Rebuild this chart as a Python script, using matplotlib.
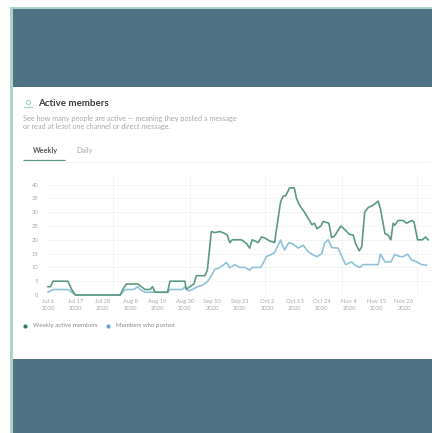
#!/usr/bin/env python3
# Active members dashboard card: weekly actives vs members who posted
import matplotlib
matplotlib.use("Agg")
import matplotlib.pyplot as plt
from matplotlib.patches import Rectangle

plt.rcParams["font.family"] = ["Lato", "DejaVu Sans"]

W, H = 432, 433

# ---------------- data (days since Jul 6 2020) ----------------
y_ticks = [0, 5, 10, 15, 20, 25, 30, 35, 40]
tick_days = [0, 11, 22, 33, 44, 55, 66, 77, 88, 99, 110, 121, 132, 143]
tick_labels = ["Jul 6\n2020", "Jul 17\n2020", "Jul 28\n2020", "Aug 8\n2020", "Aug 19\n2020",
               "Aug 30\n2020", "Sep 10\n2020", "Sep 21\n2020", "Oct 2\n2020", "Oct 13\n2020",
               "Oct 24\n2020", "Nov 4\n2020", "Nov 15\n2020", "Nov 26\n2020"]
grid_days = [26, 57, 87, 118, 148]

weekly_days = [0, 1, 2, 8, 9.5, 11, 29, 30, 31.5, 36, 37.5, 39, 41, 42, 43, 48, 49, 55, 55.5, 57,
               58.6, 59.6, 63, 64, 65.6, 67, 69, 71, 72, 73, 74, 77.7, 79.7, 81, 82, 83, 84.4,
               85.7, 87, 89, 91, 92.4, 93.4, 94.4, 95.5, 97, 98.9, 99.8, 101, 103, 105, 106,
               107, 108, 109.6, 110.5, 112.8, 113.9, 115, 117.6, 119.2, 121, 122.6, 123.5,
               125, 126, 127.2, 128.6, 130.6, 132.6, 133.5, 135.3, 136.6, 137.7, 138.6, 139.3,
               140.6, 142.6, 144, 146, 147, 148.4, 150.3, 151.6, 152.7]
weekly_active = [3, 3, 5, 5, 2, 0, 0, 2, 4, 4, 3, 2, 2, 3, 1, 1, 5, 5, 2, 3,
                 4, 7, 7, 9, 23, 22.6, 23, 22.3, 21.7, 19, 20, 20, 18.7, 17, 20, 19.6, 19,
                 21, 20.7, 19.6, 19, 27.7, 33.7, 35.8, 36, 38.8, 38.8, 35, 32.5, 30, 27, 25.5,
                 26, 24, 25, 26.7, 26, 20.8, 21.3, 25, 23.7, 22, 21.7, 18.7,
                 16, 17.5, 30, 31.7, 32.5, 34, 31.3, 22.3, 21.7, 20, 26, 25.3,
                 27, 27, 26, 27, 26.5, 20, 20, 21, 20]

posted_days = [0, 2, 8, 9.5, 11, 29, 30, 31, 34.5, 36, 37, 39, 48.2, 49, 54, 55, 56.3, 58,
               60, 62, 64.2, 65.6, 67, 69, 71.7, 73, 75, 77, 79, 81, 82, 85.5, 87.7, 89.8,
               91, 92.4, 93.4, 95, 96.7, 98.5, 100.5, 102.5, 104.5, 106.5, 108, 110, 111,
               112.5, 114, 116.5, 119.5, 122, 123.2, 125.2, 126.6, 132.6, 133.5, 135.3, 137.7,
               139.3, 141.3, 142.6, 144.4, 146, 148, 150, 152]
posted = [1, 2, 2, 1, 0, 0, 1, 2, 2, 3, 2, 1, 1, 2, 2, 3, 1.5, 2,
          3, 3.5, 5, 7, 9.3, 9.9, 11.8, 9.9, 11, 10, 10, 9, 10, 10, 13.9, 14.7,
          15.4, 18, 19.9, 16.3, 19, 18.4, 17, 18, 15.7, 14.5, 13.9, 15, 18.7,
          20, 17.2, 17, 11, 12, 10.8, 10, 11, 11, 14.8, 12, 12,
          14.7, 13.9, 13.9, 14.8, 12.7, 12, 11, 10.8]

legend_labels = ["Weekly active members", "Members who posted"]

SLATE = "#4f7385"
MINT = "#a9d6c5"
GREEN = "#5b9a80"
BLUE = "#8fc1d8"
GRID = "#f0f1f1"
TXT = "#a5a8aa"

# ---------------- page ----------------
fig = plt.figure(figsize=(W / 100, H / 100), dpi=100, facecolor="white")
page = fig.add_axes([0, 0, 1, 1])
page.set_xlim(0, W)
page.set_ylim(H, 0)
page.axis("off")

page.add_patch(Rectangle((10, 7), 3, H - 7, fc=MINT, ec="none"))
page.add_patch(Rectangle((10, 7), W - 10, 2, fc=MINT, ec="none"))
page.add_patch(Rectangle((13, 9), W - 13, 78, fc=SLATE, ec="none"))
page.add_patch(Rectangle((13, 359), W - 13, H - 359, fc=SLATE, ec="none"))

# header
page.text(38, 103, "Active members", fontsize=7, fontweight="bold", color="#3a3d40", va="center")
page.plot(28, 101.5, "o", ms=3, mfc="none", mec=MINT, mew=0.8)
page.plot([24, 32], [106.5, 106.5], color=MINT, lw=1)
page.text(23, 118.5, "See how many people are active \u2014 meaning they posted a message",
          fontsize=5.2, color=TXT, va="center")
page.text(23, 127, "or read at least one channel or direct message.", fontsize=5.2, color=TXT, va="center")
page.text(33, 150, "Weekly", fontsize=5.2, fontweight="bold", color="#55585a", va="center")
page.text(76, 150, "Daily", fontsize=5.2, color=TXT, va="center")
page.plot([23, 65], [160, 160], color=GREEN, lw=0.9, solid_capstyle="butt")
page.plot([65, 430], [162, 162], color=GRID, lw=0.6)

# legend
page.plot(25, 325.5, "o", ms=3, color="#2f7d5c", mew=0)
page.text(33, 325.5, legend_labels[0], fontsize=4.4, color="#85888a", va="center")
page.plot(108, 325.5, "o", ms=3, color="#5ba6cc", mew=0)
page.text(116, 325.5, legend_labels[1], fontsize=4.4, color="#85888a", va="center")

# ---------------- chart ----------------
# axes box: x 48..430 px, y 295 (zero)..175 px
x0, x1, y0, y1 = 48, 430, 295, 175
ax = fig.add_axes([x0 / W, 1 - y0 / H, (x1 - x0) / W, (y0 - y1) / H])
ax.patch.set_alpha(0)
ax.set_xlim(0, (x1 - x0) / 2.49)
ax.set_ylim(0, (y0 - y1) / 2.76)
for s in ax.spines.values():
    s.set_visible(False)
ax.set_yticks(y_ticks)
ax.set_xticks(tick_days)
ax.set_xticklabels(tick_labels, linespacing=1.35)
ax.tick_params(length=0, labelsize=4.2, labelcolor=TXT, pad=3.2)
ax.tick_params(axis="y", pad=7)
ax.grid(axis="y", color=GRID, lw=0.6)
for d in grid_days:
    ax.axvline(d, color=GRID, lw=0.6)
ax.axhline(0, color="#e6e8e8", lw=0.6)
ax.set_axisbelow(True)
ax.plot(posted_days, posted, color=BLUE, lw=1.2, clip_on=False)
ax.plot(weekly_days, weekly_active, color=GREEN, lw=1.2, clip_on=False)

fig.savefig("out.png", dpi=100)
